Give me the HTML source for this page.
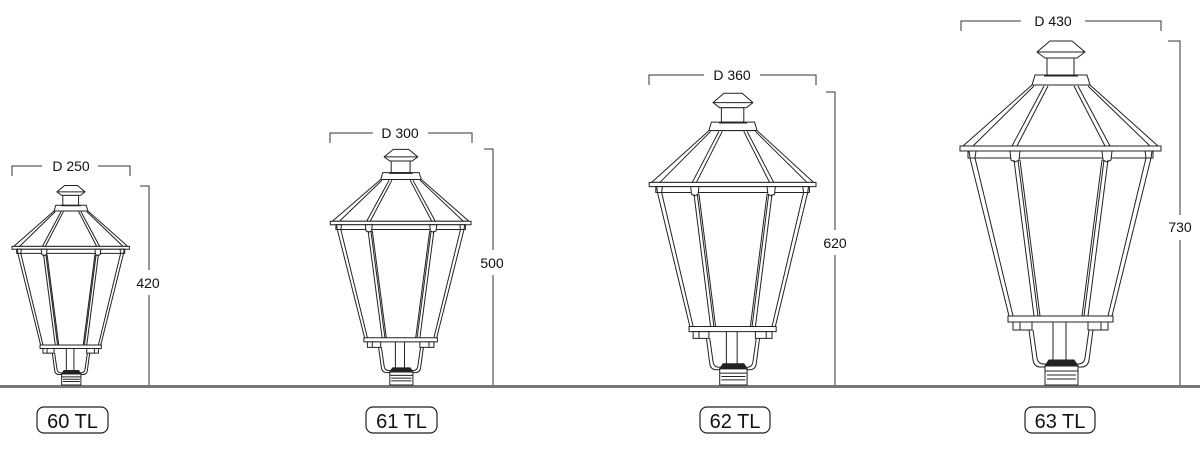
<!DOCTYPE html>
<html><head><meta charset="utf-8"><style>
html,body{margin:0;padding:0;background:#fff;}
svg{display:block;}
text{font-family:"Liberation Sans",sans-serif;fill:#111;}
.l{fill:none;stroke:#222;stroke-width:1;vector-effect:non-scaling-stroke;}
.f{fill:#fff;stroke:#222;stroke-width:1;vector-effect:non-scaling-stroke;}
.d{fill:#222;stroke:#222;stroke-width:1;vector-effect:non-scaling-stroke;}
.dim{fill:none;stroke:#333;stroke-width:1;}
</style></head><body>
<svg width="1200" height="449" viewBox="0 0 1200 449" xmlns="http://www.w3.org/2000/svg">
<defs>
<g id="lamp">
  <!-- finial -->
  <path class="f" d="M1050,41 L1072,41 L1085,52 L1077,58 L1045,58 L1037,52 Z"/>
  <line class="l" x1="1037" y1="52" x2="1085" y2="52"/>
  <rect class="f" x="1047" y="58" width="27" height="17"/>
  <!-- collar -->
  <path class="f" d="M1035,75 L1087,75 L1090,85 L1032,85 Z"/>
  <line class="d" x1="1044" y1="76" x2="1078" y2="76"/>
  <!-- roof -->
  <path class="f" d="M1032,85 L1090,85 L1158,146 L963,146 Z"/>
  <path class="l" d="M1034,86 L973,146 M1088,86 L1150,146"/>
  <path class="l" d="M1044,86 L1012,146 M1048,86 L1017,146"/>
  <path class="l" d="M1074,86 L1105,146 M1078,86 L1110,146"/>
  <!-- rim -->
  <rect class="f" x="960" y="146" width="201" height="5"/>
  <rect class="f" x="968" y="151" width="185" height="7"/>
  <path class="f" d="M1010,151 L1020,151 L1019,160 L1015,162 L1011,160 Z"/>
  <path class="f" d="M1102,151 L1112,151 L1111,160 L1107,162 L1103,160 Z"/>
  <path class="f" d="M969,151 L976,151 L975,158 L970,158 Z"/>
  <path class="f" d="M1145,151 L1152,151 L1151,158 L1146,158 Z"/>
  <!-- glass body -->
  <path class="l" d="M970,158 L1009,316 M975,158 L1013,316"/>
  <path class="l" d="M1151,158 L1112,316 M1146,158 L1108,316"/>
  <path class="l" d="M1014,160 L1034,316 M1018,160 L1038,316 M1020,160 L1040,316"/>
  <path class="l" d="M1108,160 L1088,316 M1104,160 L1084,316 M1102,160 L1082,316"/>
  <!-- bottom band -->
  <rect class="f" x="1008" y="316" width="105" height="6"/>
  <rect class="f" x="1013" y="322" width="19" height="8"/>
  <line class="l" x1="1020" y1="322" x2="1020" y2="330"/>
  <rect class="f" x="1088" y="322" width="20" height="8"/>
  <line class="l" x1="1101" y1="322" x2="1101" y2="330"/>
  <!-- stem & bracket -->
  <path class="l" d="M1053,322 L1053,362 M1066,322 L1066,362"/>
  <path class="l" d="M1029,330 L1033,360 Q1034,367 1041,367 L1047,367"/>
  <path class="l" d="M1033,330 L1037,358 Q1038,364 1044,364 L1047,364"/>
  <path class="l" d="M1093,330 L1089,360 Q1088,367 1081,367 L1076,367"/>
  <path class="l" d="M1089,330 L1085,358 Q1084,364 1078,364 L1076,364"/>
  <!-- socket -->
  <path class="d" d="M1049,360 L1074,360 L1078,366 L1045,366 Z"/>
  <rect class="f" x="1045" y="366" width="33" height="19"/>
  <path class="l" d="M1045,371 L1078,371 M1047,375 L1076,375 M1047,379 L1076,379"/>
</g>
</defs>

<!-- ground -->
<rect x="0" y="385" width="1200" height="3" fill="#777"/>

<use href="#lamp" transform="translate(71,385) scale(0.584,0.58) translate(-1061,-385)"/>
<use href="#lamp" transform="translate(401,385) scale(0.70,0.685) translate(-1061,-385)"/>
<use href="#lamp" transform="translate(733,385) scale(0.83,0.848) translate(-1061,-385)"/>
<use href="#lamp" transform="translate(1061,385) scale(1,1) translate(-1061,-385)"/>

<!-- dimensions 60 -->
<path class="dim" d="M12,176 L12,166 L42,166 M98,166 L130,166 L130,176"/>
<text x="71" y="171" font-size="14" text-anchor="middle">D 250</text>
<path class="dim" d="M140,186 L149,186 L149,270 M149,295 L149,385"/>
<text x="148" y="288" font-size="14" text-anchor="middle">420</text>
<!-- 61 -->
<path class="dim" d="M330,143 L330,133 L373,133 M428,133 L472,133 L472,143"/>
<text x="400" y="138" font-size="14" text-anchor="middle">D 300</text>
<path class="dim" d="M484,149 L493,149 L493,250 M493,275 L493,385"/>
<text x="492" y="268" font-size="14" text-anchor="middle">500</text>
<!-- 62 -->
<path class="dim" d="M649,85 L649,75 L704,75 M760,75 L816,75 L816,85"/>
<text x="732" y="80" font-size="14" text-anchor="middle">D 360</text>
<path class="dim" d="M826,92 L835,92 L835,230 M835,255 L835,385"/>
<text x="835" y="248" font-size="14" text-anchor="middle">620</text>
<!-- 63 -->
<path class="dim" d="M961,31 L961,21 L1021,21 M1085,21 L1161,21 L1161,31"/>
<text x="1053" y="26" font-size="14" text-anchor="middle">D 430</text>
<path class="dim" d="M1168,41 L1180,41 L1180,215 M1180,240 L1180,385"/>
<text x="1180" y="232" font-size="14" text-anchor="middle">730</text>

<!-- labels -->
<g fill="#fff" stroke="#222" stroke-width="1.2">
<rect x="37" y="407" width="71" height="26" rx="7"/>
<rect x="366" y="407" width="71" height="26" rx="7"/>
<rect x="700" y="407" width="70" height="26" rx="7"/>
<rect x="1025" y="407" width="70" height="26" rx="7"/>
</g>
<g font-size="20" text-anchor="middle">
<text x="72.5" y="428">60 TL</text>
<text x="401.5" y="428">61 TL</text>
<text x="735" y="428">62 TL</text>
<text x="1060" y="428">63 TL</text>
</g>
</svg>
</body></html>
